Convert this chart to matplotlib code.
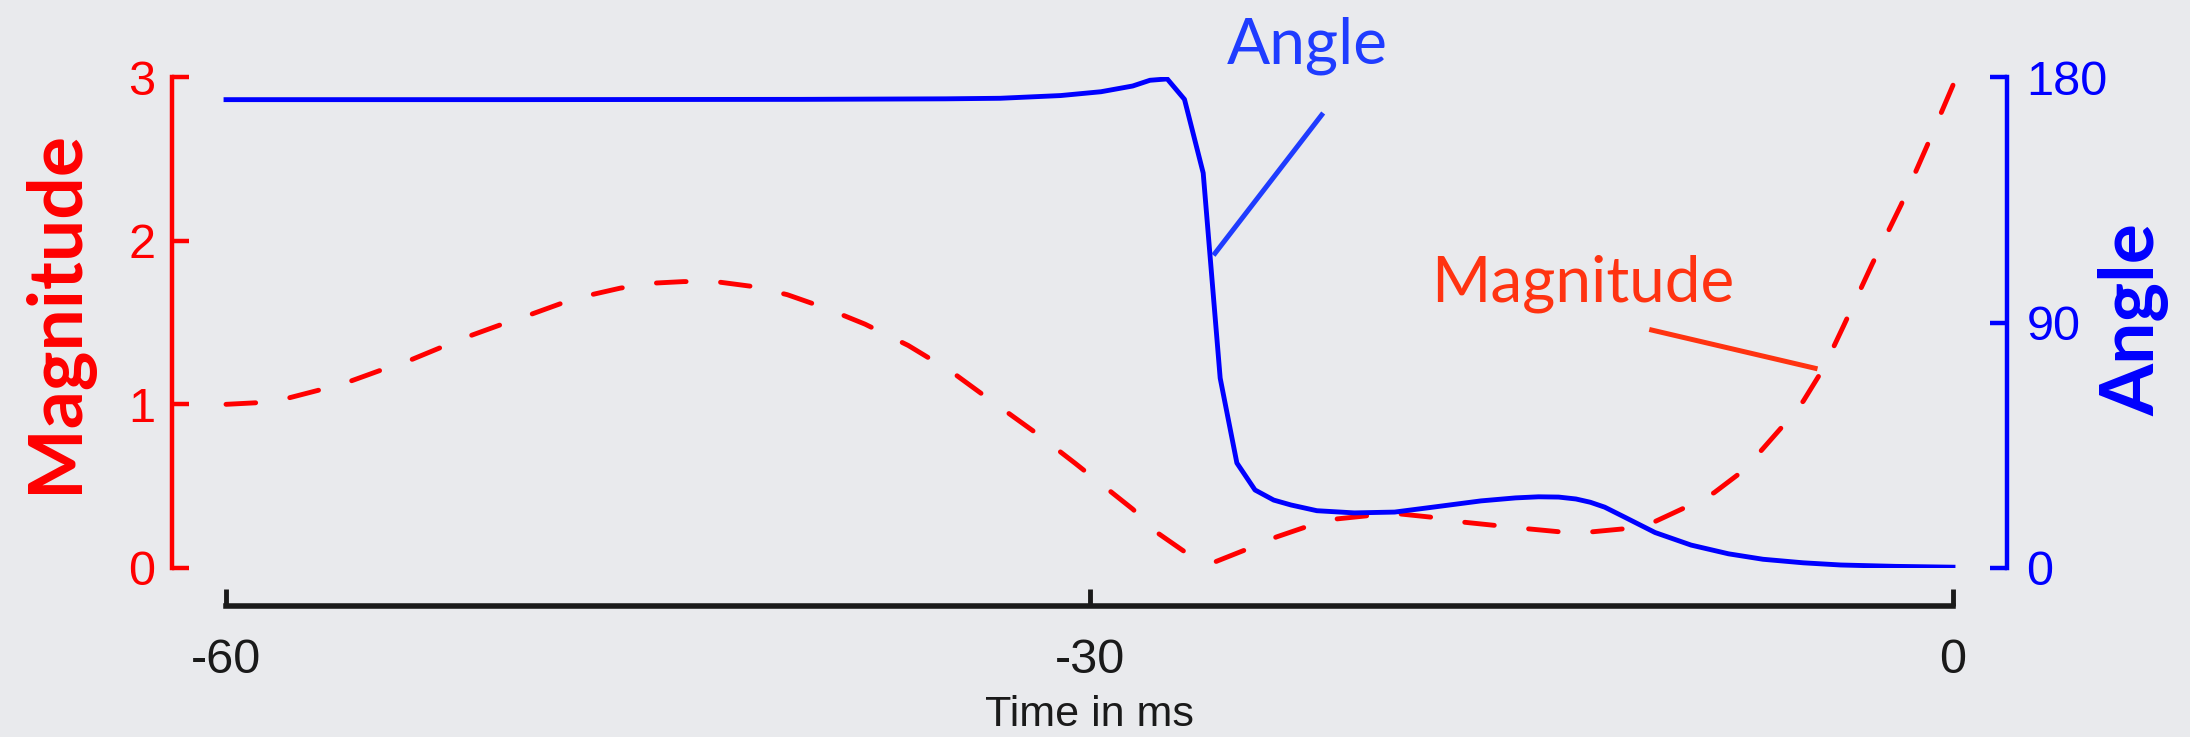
import matplotlib
matplotlib.use('Agg')
import numpy as np
import matplotlib.pyplot as plt
from matplotlib.lines import Line2D

# magnitude (red dashed, left axis)
time_mag = [-60, -58.9, -57.8, -56.7, -55.7, -54.6, -53.6, -52.5, -51.5, -50.4,
            -49.4, -48.3, -47.3, -46.3, -45.2, -44.1, -43.0, -41.7, -40.5, -39.2,
            -37.8, -36.3, -34.8, -33.4, -31.9, -30.5, -29.5, -28.5, -27.6, -26.7,
            -25.6, -24.6, -23.5, -22.5, -21.4, -20.3, -19.2, -18.1, -17.0, -15.9,
            -14.8, -13.6, -12.6, -11.4, -10.4, -9.3, -8.3, -7.4, -6.7, -5.9,
            -5.2, -4.5, -3.8, -2.8, -1.8, -0.9, 0]
magnitude = [1.00, 1.01, 1.04, 1.09, 1.14, 1.21, 1.27, 1.35, 1.42, 1.49,
             1.55, 1.62, 1.67, 1.71, 1.74, 1.75, 1.75, 1.72, 1.67, 1.59,
             1.49, 1.36, 1.20, 1.02, 0.83, 0.64, 0.50, 0.36, 0.21, 0.10,
             0.04, 0.11, 0.19, 0.25, 0.30, 0.32, 0.33, 0.31, 0.28, 0.26,
             0.24, 0.22, 0.22, 0.24, 0.28, 0.37, 0.46, 0.58, 0.71, 0.87,
             1.02, 1.22, 1.48, 1.86, 2.22, 2.58, 2.95]

# angle (blue solid, right axis)
time_ang = [-60, -50, -40, -35, -33.1, -31, -29.6, -28.5, -27.9, -27.3,
            -26.7, -26.05, -25.46, -24.88, -24.25, -23.6, -23.0, -22.1, -20.8, -19.4,
            -18.0, -16.4, -15.2, -14.4, -13.7, -13.1, -12.6, -12.1, -11.4, -10.35,
            -9.1, -7.8, -6.6, -5.2, -3.9, -2.0, 0]
angle = [171.7, 171.7, 171.8, 172.0, 172.2, 173.2, 174.6, 176.7, 178.8, 179.3,
         171.8, 144.8, 69.6, 38.5, 28.6, 24.9, 23.1, 21.0, 20.2, 20.5,
         22.4, 24.6, 25.7, 26.1, 26.0, 25.3, 24.1, 22.3, 18.6, 13.0,
         8.4, 5.2, 3.2, 1.9, 1.1, 0.6, 0.3]

mag_ticks = [0, 1, 2, 3]
ang_ticks = [0, 90, 180]
time_ticks = [-60, -30, 0]
time_labels = ['-60', '-30', '0']

bg = '#e9eaed'
tick_font = 'Liberation Sans'
title_font = 'Lato'

fig = plt.figure(figsize=(21.9, 7.37), dpi=100, facecolor=bg)
ax = fig.add_axes([0.07854, 0.22931, 0.8379, 0.66621])
ax.patch.set_visible(False)
ax2 = ax.twinx()
ax2.patch.set_visible(False)

mag_line, = ax.plot(time_mag, magnitude, color='#ff0000', lw=3.5,
                    dash_capstyle='round', solid_capstyle='round')
ax2.plot(time_ang, angle, color='#0000ff', lw=3.5)

ax.set_xlim(-61.876, 1.876)
ax.set_ylim(0, 3)
ax2.set_ylim(0, 180)

# stretch the dash pattern a little so the curve starts and ends on a dash
pts = ax.transData.transform(np.column_stack([time_mag, magnitude]))
path_len = np.hypot(*np.diff(pts, axis=0).T).sum() * 72 / fig.dpi / 3.5
on, off = 6.2, 7.2
n = round((path_len - on) / (on + off))
k = path_len / (n * (on + off) + on)
mag_line.set_dashes([on * k, off * k])

# left axis
ax.spines['top'].set_visible(False)
ax.spines['right'].set_visible(False)
ax.spines['left'].set_color('#ff0000')
ax.spines['left'].set_linewidth(3.2)
ax.spines['left'].set_bounds(0, 3)
ax.set_yticks(mag_ticks)
ax.tick_params(axis='y', direction='in', length=12, width=3.2, colors='#ff0000',
               labelsize=35, pad=12)

# bottom axis
ax.spines['bottom'].set_position(('outward', 27.4))
ax.spines['bottom'].set_bounds(-60, 0)
ax.spines['bottom'].set_linewidth(4)
ax.spines['bottom'].set_color('#1a1a1a')
ax.set_xticks(time_ticks)
ax.set_xticklabels(time_labels)
ax.tick_params(axis='x', direction='in', length=12, width=3.5, colors='#1a1a1a',
               labelsize=35, pad=23)
ax.set_xlabel('Time in ms', fontsize=31, family=tick_font, color='#1a1a1a', labelpad=9)

for lab in ax.get_xticklabels() + ax.get_yticklabels():
    lab.set_family(tick_font)

# right axis
for s in ['top', 'left', 'bottom']:
    ax2.spines[s].set_visible(False)
ax2.spines['right'].set_color('#0000ff')
ax2.spines['right'].set_linewidth(3.2)
ax2.set_yticks(ang_ticks)
ax2.tick_params(axis='y', direction='in', length=12, width=3.2, colors='#0000ff',
                labelsize=35, pad=14)
for lab in ax2.get_yticklabels():
    lab.set_family(tick_font)

# axis titles
fig.text(0.0256, 0.578, 'Magnitude', rotation=90, ha='center', va='center',
         fontsize=54, family=title_font, weight='bold', color='#ff0000')
fig.text(0.9745, 0.567, 'Angle', rotation=90, ha='center', va='center',
         fontsize=54, family=title_font, weight='bold', color='#0000ff')

# callouts
fig.text(0.5603, 0.9145, 'Angle', ha='left', va='baseline', fontsize=46,
         family=title_font, weight='normal', color='#1f3cff')
fig.add_artist(Line2D([0.6035, 0.5548], [0.8440, 0.6563], color='#1f3cff', lw=3.6,
                      transform=fig.transFigure))
fig.text(0.6537, 0.5906, 'Magnitude', ha='left', va='baseline', fontsize=46,
         family=title_font, weight='normal', color='#ff3311')
fig.add_artist(Line2D([0.7542, 0.8288], [0.5522, 0.5003], color='#ff3311', lw=3.6,
                      transform=fig.transFigure))

fig.savefig('out.png', dpi=100, facecolor=bg)
